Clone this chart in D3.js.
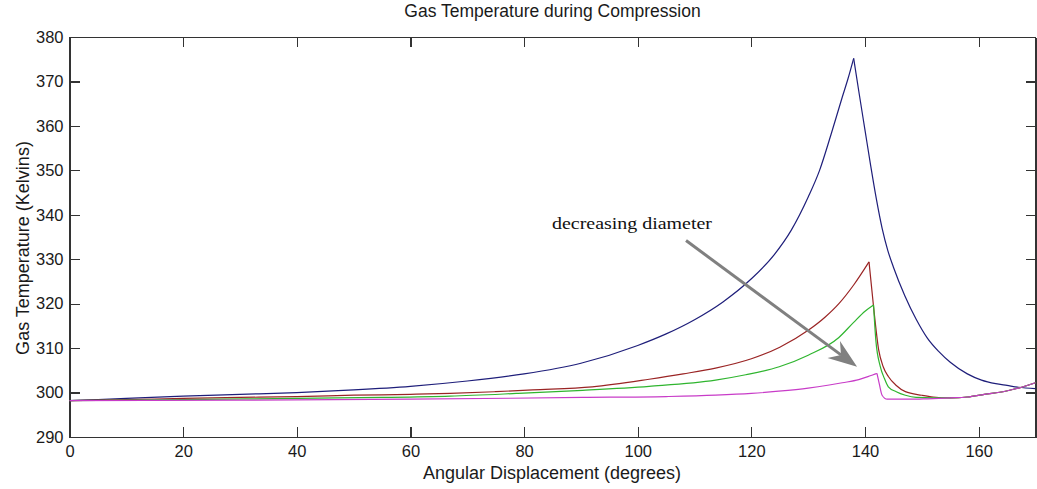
<!DOCTYPE html>
<html>
<head>
<meta charset="utf-8">
<script src="https://cdn.jsdelivr.net/npm/d3@7"></script>
<style>
  html, body { margin: 0; padding: 0; background: #fff; }
  svg { display: block; }
  .axis text { font-family: "Liberation Sans", Arial, Helvetica, sans-serif; font-size: 16.5px; fill: #1a1a1a; }
  .axis path, .axis line { stroke: #333; stroke-width: 1.2px; shape-rendering: crispEdges; }
</style>
</head>
<body>
<svg id="chart" width="1037" height="489"></svg>
<script>
// Gas temperature vs. crank angle for four cylinder diameters (largest -> smallest)
// Each series is a list of [angle in degrees, temperature in K]
const seriesLargest = [
  [0,298.2],[5,298.4],[10,298.7],[20,299.2],[30,299.6],[40,300.0],[50,300.6],[60,301.4],
  [70,302.6],[80,304.2],[90,306.6],[100,310.6],[105,313.2],[110,316.4],[115,320.4],
  [120,325.6],[124,331],[127,336.5],[130,344],[132,350],[134,358],[136,366.5],[137,370.6],
  [138,375.2],[139,367],[140,359],[141,351],[142,343.5],[143,337],[144,332],
  [145,328.2],[147,321.8],[149,316.5],[151,312.2],[153,309.2],[155,306.8],[158,304.2],
  [160.5,302.8],[163,302],[165,301.6],[167,301.2],[170,300.9]
];
const seriesLarge = [
  [0,298.2],[10,298.4],[20,298.7],[30,298.9],[40,299.1],[50,299.4],[60,299.6],[67,299.8],
  [75,300.2],[81.5,300.6],[92,301.3],[102,303.0],[108,304.2],[113.7,305.5],[120,307.6],
  [125,310.2],[130,314.0],[133,317.0],[135.4,320.0],[138,324.2],[140.7,329.4],[141.5,319.3],
  [142.4,309.6],[143.2,305.8],[144.1,303.6],[145.5,301.6],[147.1,300.2],[150,299.4],
  [152,299.0],[155,298.8],[158,299.0],[161,299.6],[164.7,300.3],[167,301.0],[170,302.2]
];
const seriesMedium = [
  [0,298.2],[20,298.4],[40,298.7],[55,298.9],[67,299.2],[78.6,299.8],[90.3,300.5],
  [102,301.4],[113.7,302.8],[119,304],[124.9,305.8],[130,308.4],[135.4,312.4],[138,315.8],
  [140,318.3],[141.5,319.7],[141.9,311.8],[142.7,305.8],[143.4,303.2],[144.1,301.3],
  [145.5,300.2],[147.1,299.4],[149,298.9],[152,298.8],[155,298.8],[158,299.0],[161,299.6],
  [164.7,300.3],[167,301.0],[170,302.2]
];
const seriesSmall = [
  [0,298.2],[30,298.3],[60,298.5],[90.3,298.9],[105,299.1],[113.7,299.4],[120,299.8],
  [124.8,300.3],[130,301],[133.7,301.7],[136,302.2],[138.9,302.9],[141.2,303.9],[142.1,304.3],
  [142.5,302],[143,299.4],[143.9,298.5],[148,298.5],[151,298.6],[155,298.8],[158,299.0],
  [161,299.6],[164.7,300.3],[167,301.0],[170,302.2]
];
const seriesColors = ["#1e1e7a", "#9a2424", "#2fb52f", "#c83cc8"];
const xTicks = [0, 20, 40, 60, 80, 100, 120, 140, 160];
const yTicks = [290, 300, 310, 320, 330, 340, 350, 360, 370, 380];

// annotation arrow: from label toward the smaller-diameter curves
const arrowFrom = [108.5, 334.2];
const arrowTo = [138.6, 305.8];

const svg = d3.select("#chart");
const plotLeft = 69.5, plotRight = 1035.5, plotTop = 37, plotBottom = 437;

const x = d3.scaleLinear().domain([0, 170]).range([plotLeft, plotRight]);
const y = d3.scaleLinear().domain([290, 380]).range([plotBottom, plotTop]);

// axes with inward ticks on all four sides (boxed plot)
svg.append("g").attr("class", "axis")
  .attr("transform", `translate(0,${plotBottom})`)
  .call(d3.axisBottom(x).tickValues(xTicks).tickSize(-10).tickSizeOuter(0).tickPadding(8));
svg.append("g").attr("class", "axis")
  .attr("transform", `translate(${plotLeft},0)`)
  .call(d3.axisLeft(y).tickValues(yTicks).tickSize(-10).tickSizeOuter(0).tickPadding(6));
svg.append("g").attr("class", "axis")
  .attr("transform", `translate(0,${plotTop})`)
  .call(d3.axisTop(x).tickValues(xTicks).tickSize(-10).tickSizeOuter(0).tickFormat(""));
svg.append("g").attr("class", "axis")
  .attr("transform", `translate(${plotRight},0)`)
  .call(d3.axisRight(y).tickValues(yTicks).tickSize(-10).tickSizeOuter(0).tickFormat(""));

// curves: smooth on each side of the peak, sharp cusp at the peak itself
const line = d3.line().x(d => x(d[0])).y(d => y(d[1])).curve(d3.curveMonotoneX);
[seriesLargest, seriesLarge, seriesMedium, seriesSmall].forEach((s, i) => {
  const k = d3.maxIndex(s, d => d[1]);
  [s.slice(0, k + 1), s.slice(k)].forEach(part => {
    svg.append("path")
      .attr("d", line(part))
      .attr("fill", "none")
      .attr("stroke", seriesColors[i])
      .attr("stroke-width", 1.2)
      .attr("stroke-linejoin", "miter");
  });
});

// annotation arrow
const ax0 = x(arrowFrom[0]), ay0 = y(arrowFrom[1]);
const ax1 = x(arrowTo[0]), ay1 = y(arrowTo[1]);
const len = Math.hypot(ax1 - ax0, ay1 - ay0);
const ux = (ax1 - ax0) / len, uy = (ay1 - ay0) / len;
const headLen = 29, headHalf = 10.5, notch = 20;
svg.append("line")
  .attr("x1", ax0).attr("y1", ay0)
  .attr("x2", ax1 - ux * notch).attr("y2", ay1 - uy * notch)
  .attr("stroke", "#808080").attr("stroke-width", 3);
const bx = ax1 - ux * headLen, by = ay1 - uy * headLen;
const nx = ax1 - ux * notch, ny = ay1 - uy * notch;
svg.append("path")
  .attr("d", `M${ax1},${ay1} L${bx - uy * headHalf},${by + ux * headHalf} L${nx},${ny} L${bx + uy * headHalf},${by - ux * headHalf} Z`)
  .attr("fill", "#808080");

svg.append("text")
  .attr("x", 552).attr("y", 229)
  .attr("textLength", 160).attr("lengthAdjust", "spacingAndGlyphs")
  .style("font-family", "'Liberation Serif', 'Times New Roman', serif")
  .style("font-size", "16px").style("fill", "#111")
  .text("decreasing diameter");

// title and axis labels
const labelFont = "'Liberation Sans', Arial, Helvetica, sans-serif";
svg.append("text")
  .attr("x", (plotLeft + plotRight) / 2).attr("y", 17)
  .attr("text-anchor", "middle")
  .style("font-family", labelFont).style("font-size", "17.5px").style("fill", "#1a1a1a")
  .text("Gas Temperature during Compression");
svg.append("text")
  .attr("x", 552).attr("y", 479)
  .attr("text-anchor", "middle")
  .style("font-family", labelFont).style("font-size", "18px").style("fill", "#1a1a1a")
  .text("Angular Displacement (degrees)");
svg.append("text")
  .attr("transform", `translate(29,248) rotate(-90)`)
  .attr("text-anchor", "middle")
  .style("font-family", labelFont).style("font-size", "18px").style("fill", "#1a1a1a")
  .text("Gas Temperature (Kelvins)");
</script>
</body>
</html>
